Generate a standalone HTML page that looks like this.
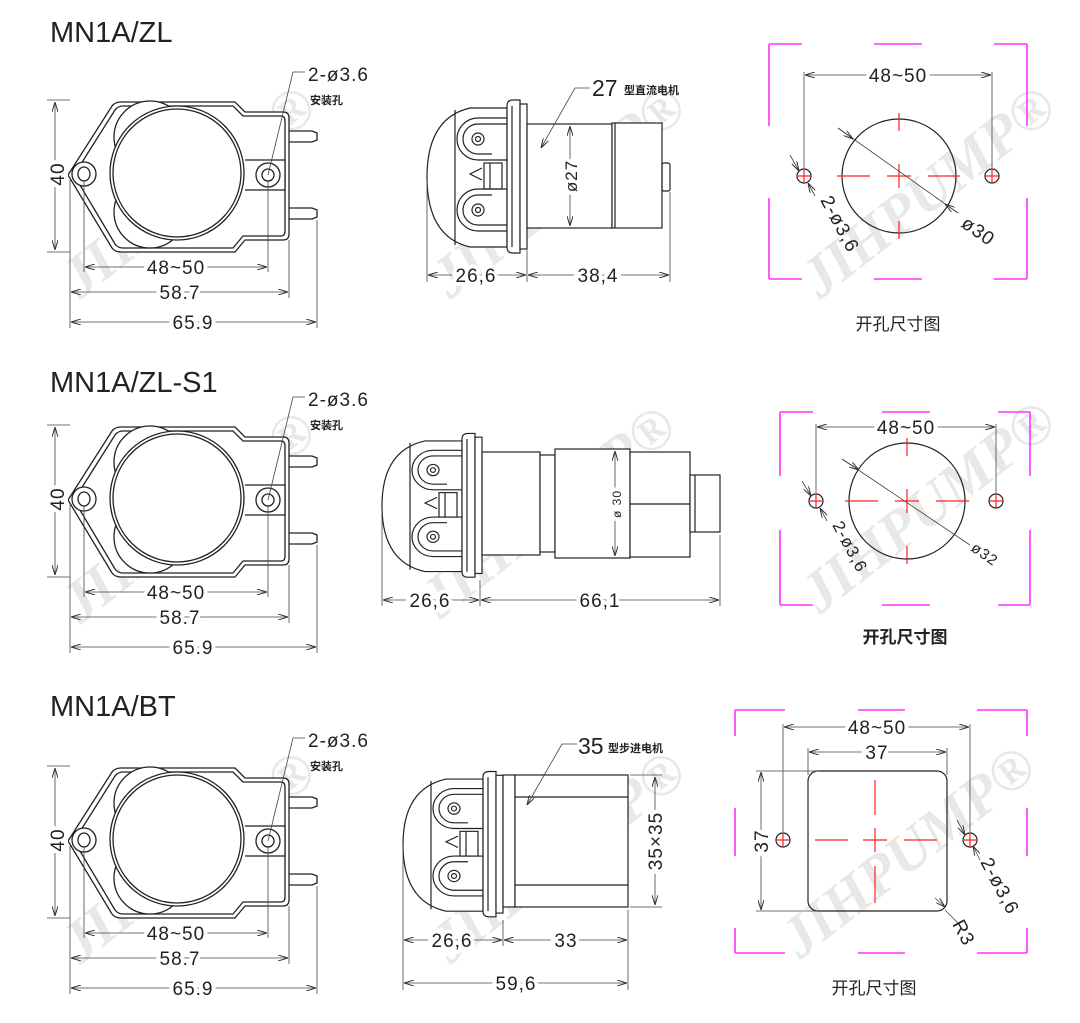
<!DOCTYPE html>
<html><head><meta charset="utf-8"><style>
html,body{margin:0;padding:0;background:#fff;}
svg{display:block;}
.t{font-family:"Liberation Sans","Noto Sans CJK SC",sans-serif;fill:#222;}
.d{font-family:"Liberation Sans",sans-serif;font-size:19px;fill:#222;letter-spacing:1px;stroke:#fff;stroke-width:8px;paint-order:stroke;}
.cn{font-family:"Noto Sans CJK SC",sans-serif;font-size:11px;font-weight:bold;fill:#222;}
.wm{font-family:"Liberation Serif",serif;font-style:italic;font-weight:bold;font-size:58px;fill:#e8e8e8;}
</style></head><body>
<svg width="1080" height="1023" viewBox="0 0 1080 1023" xmlns="http://www.w3.org/2000/svg">
<defs>
<marker id="a" viewBox="0 0 10 6" refX="10" refY="3" markerWidth="10" markerHeight="6" orient="auto-start-reverse" markerUnits="userSpaceOnUse"><path d="M0,0 L10,3 L0,6" fill="none" stroke="#333" stroke-width="1"/></marker>
<g id="fv" fill="none" stroke="#222" stroke-width="1.3">
 <path d="M68,175 L112,106 Q115,102 121,102 L235,102 L245,112 L283,112 Q289,112 289,118 L289,234 Q289,240 283,240 L245,240 L235,252 L121,252 Q115,252 112,248 Z" fill="#fff"/>
 <path d="M74,175 L115,110 Q118,106 123,106 L233,106 L243,116 L281,116 Q285,116 285,121 L285,231 Q285,236 281,236 L243,236 L233,248 L123,248 Q118,248 115,244 Z"/>
 <circle cx="150" cy="137" r="36" fill="#fff"/>
 <circle cx="150" cy="212" r="36" fill="#fff"/>
 <circle cx="177" cy="173" r="67" fill="#fff"/>
 <circle cx="177" cy="173" r="64"/>
 <path d="M245,160 L285,160 L285,190 L245,190" fill="#fff"/>
 <circle cx="84" cy="174" r="12" fill="#fff"/><ellipse cx="84" cy="174" rx="6" ry="7"/>
 <circle cx="268" cy="175" r="12" fill="#fff"/><circle cx="268" cy="175" r="6"/>
 <path d="M289,131 L312,131 L317,133 L317,140 L312,142 L289,142"/>
 <path d="M289,208 L312,208 L317,210 L317,217 L312,219 L289,219"/>
 <g stroke="#444" stroke-width="0.8">
  <line x1="70" y1="100" x2="47" y2="100"/><line x1="70" y1="252" x2="47" y2="252"/>
  <line x1="55" y1="102" x2="55" y2="250" marker-start="url(#a)" marker-end="url(#a)"/>
  <line x1="84" y1="180" x2="84" y2="272"/><line x1="268" y1="180" x2="268" y2="272"/>
  <line x1="85" y1="267" x2="267" y2="267" marker-start="url(#a)" marker-end="url(#a)"/>
  <line x1="70" y1="180" x2="70" y2="328"/><line x1="289" y1="240" x2="289" y2="298"/><line x1="317" y1="220" x2="317" y2="328"/>
  <line x1="71" y1="292" x2="288" y2="292" marker-start="url(#a)" marker-end="url(#a)"/>
  <line x1="71" y1="322" x2="316" y2="322" marker-start="url(#a)" marker-end="url(#a)"/>
  <polyline points="268,175 293,72 305,72"/>
 </g>
 <g stroke="none">
  <text class="d" x="176" y="274" text-anchor="middle">48~50</text>
  <text class="d" x="180" y="299" text-anchor="middle">58.7</text>
  <text class="d" x="193" y="329" text-anchor="middle">65.9</text>
  <text class="d" transform="translate(64,174) rotate(-90)" text-anchor="middle">40</text>
  <text class="d" x="308" y="81" style="stroke:none">2-ø3.6</text>
  <text class="cn" x="310" y="104">安装孔</text>
 </g>
</g>
<g id="hd" fill="none" stroke="#222" stroke-width="1.2">
 <path d="M470,108 Q427,118 427,177 Q427,237 470,247 L507,247 L507,108 Z" fill="#fff"/>
 <line x1="455" y1="110" x2="455" y2="245"/>
 <path d="M507,118 L478,118 A21,21 0 0 0 478,160 L507,160"/>
 <path d="M507,124 L478,124 A15,15 0 0 0 478,154 L492,154"/>
 <path d="M507,189 L478,189 A21,21 0 0 0 478,231 L507,231"/>
 <path d="M492,195 L478,195 A15,15 0 0 0 478,225 L507,225"/>
 <circle cx="478" cy="139" r="6"/><circle cx="478" cy="139" r="2.5"/>
 <circle cx="478" cy="210" r="6"/><circle cx="478" cy="210" r="2.5"/>
 <path d="M482,168 L470,174 L482,180"/>
 <rect x="484" y="163" width="18" height="26"/>
 <line x1="490" y1="163" x2="490" y2="189"/>
 <path d="M513,100 L520,100 L520,253 L513,253 Q507,253 507,247 L507,106 Q507,100 513,100 Z" fill="#fff"/>
 <rect x="520" y="104" width="7" height="145" fill="#fff"/>
 <line x1="512" y1="106" x2="512" y2="247"/>
</g>
</defs>

<g class="wm">
 <text transform="translate(80,300) rotate(-38)">JIHPUMP®</text>
 <text transform="translate(450,300) rotate(-38)">JIHPUMP®</text>
 <text transform="translate(820,300) rotate(-38)">JIHPUMP®</text>
 <text transform="translate(80,625) rotate(-38)">JIHPUMP®</text>
 <text transform="translate(440,620) rotate(-38)">JIHPUMP®</text>
 <text transform="translate(820,615) rotate(-38)">JIHPUMP®</text>
 <text transform="translate(80,965) rotate(-38)">JIHPUMP®</text>
 <text transform="translate(450,965) rotate(-38)">JIHPUMP®</text>
 <text transform="translate(800,960) rotate(-38)">JIHPUMP®</text>
</g>

<text class="t" x="50" y="42" font-size="29">MN1A/ZL</text>
<text class="t" x="50" y="392" font-size="29">MN1A/ZL-S1</text>
<text class="t" x="50" y="716" font-size="29">MN1A/BT</text>

<use href="#fv"/>
<use href="#fv" transform="translate(0,325)"/>
<use href="#fv" transform="translate(0,666)"/>

<use href="#hd"/>
<g fill="none" stroke="#222" stroke-width="1.2">
 <rect x="527" y="124" width="85" height="104" fill="#fff"/>
 <rect x="612" y="123" width="50" height="105" fill="#fff"/>
 <line x1="615" y1="123" x2="615" y2="228"/>
 <rect x="662" y="163" width="8" height="28" rx="2"/>
</g>
<g stroke="#444" stroke-width="0.8" fill="none">
 <line x1="427" y1="180" x2="427" y2="282"/><line x1="527" y1="250" x2="527" y2="282"/><line x1="670" y1="192" x2="670" y2="282"/>
 <line x1="428" y1="275" x2="526" y2="275" marker-start="url(#a)" marker-end="url(#a)"/>
 <line x1="528" y1="275" x2="669" y2="275" marker-start="url(#a)" marker-end="url(#a)"/>
 <line x1="570" y1="126" x2="570" y2="226" marker-start="url(#a)" marker-end="url(#a)"/>
 <polyline points="590,88 575,88 541,148" marker-end="url(#a)"/>
</g>
<text class="d" x="476" y="282" text-anchor="middle">26,6</text>
<text class="d" x="598" y="282" text-anchor="middle">38,4</text>
<text class="d" transform="translate(577,176) rotate(-90)" text-anchor="middle" style="font-size:17px">ø27</text>
<text class="t" x="592" y="96" font-size="23">27</text>
<text class="cn" x="624" y="94">型直流电机</text>

<use href="#hd" transform="translate(-45,330) scale(1,0.94) translate(0,10)"/>
<g fill="none" stroke="#222" stroke-width="1.2">
 <rect x="482" y="452" width="58" height="103" fill="#fff"/>
 <rect x="540" y="455" width="15" height="97" fill="#fff"/>
 <rect x="555" y="449" width="75" height="109" fill="#fff"/>
 <rect x="630" y="452" width="60" height="105" fill="#fff"/>
 <line x1="630" y1="504" x2="690" y2="504"/>
 <rect x="690" y="475" width="30" height="57" fill="#fff"/>
 <line x1="695" y1="475" x2="695" y2="532"/>
</g>
<g stroke="#444" stroke-width="0.8" fill="none">
 <line x1="382" y1="510" x2="382" y2="606"/><line x1="480" y1="580" x2="480" y2="606"/><line x1="720" y1="535" x2="720" y2="606"/>
 <line x1="383" y1="600" x2="479" y2="600" marker-start="url(#a)" marker-end="url(#a)"/>
 <line x1="481" y1="600" x2="719" y2="600" marker-start="url(#a)" marker-end="url(#a)"/>
 <line x1="615" y1="451" x2="615" y2="556" marker-start="url(#a)" marker-end="url(#a)"/>
</g>
<text class="d" x="430" y="607" text-anchor="middle">26,6</text>
<text class="d" x="600" y="607" text-anchor="middle">66,1</text>
<text class="d" transform="translate(621,504) rotate(-90)" text-anchor="middle" style="font-size:12px">ø 30</text>

<use href="#hd" transform="translate(-24,667) scale(1,0.95) translate(0,10)"/>
<g fill="none" stroke="#222" stroke-width="1.2">
 <rect x="503" y="775" width="12" height="132" fill="#fff"/>
 <rect x="515" y="775" width="113" height="132" fill="#fff"/>
 <line x1="515" y1="797" x2="628" y2="797"/><line x1="515" y1="885" x2="628" y2="885"/>
</g>
<g stroke="#444" stroke-width="0.8" fill="none">
 <line x1="403" y1="845" x2="403" y2="990"/><line x1="503" y1="920" x2="503" y2="946"/><line x1="628" y1="910" x2="628" y2="990"/>
 <line x1="630" y1="775" x2="662" y2="775"/><line x1="630" y1="907" x2="662" y2="907"/>
 <line x1="655" y1="777" x2="655" y2="905" marker-start="url(#a)" marker-end="url(#a)"/>
 <line x1="404" y1="940" x2="502" y2="940" marker-start="url(#a)" marker-end="url(#a)"/>
 <line x1="504" y1="940" x2="627" y2="940" marker-start="url(#a)" marker-end="url(#a)"/>
 <line x1="404" y1="983" x2="627" y2="983" marker-start="url(#a)" marker-end="url(#a)"/>
 <polyline points="577,744 562,744 527,805" marker-end="url(#a)"/>
</g>
<text class="d" x="452" y="947" text-anchor="middle">26,6</text>
<text class="d" x="566" y="947" text-anchor="middle">33</text>
<text class="d" x="516" y="990" text-anchor="middle">59,6</text>
<text class="d" transform="translate(662,841) rotate(-90)" text-anchor="middle">35×35</text>
<text class="t" x="578" y="754" font-size="23">35</text>
<text class="cn" x="608" y="752">型步进电机</text>

<g stroke="#ff33ff" stroke-width="1.6" fill="none">
 <path d="M769,44 H802 M874,44 H922 M994,44 H1027 M769,279 H802 M874,279 H922 M994,279 H1027 M769,44 V126 M769,198 V279 M1027,44 V126 M1027,198 V279"/>
 <path d="M780,412 H813 M882,412 H930 M998,412 H1030 M780,605 H813 M882,605 H930 M998,605 H1030 M780,412 V476 M780,530 V605 M1030,412 V476 M1030,530 V605"/>
 <path d="M735,710 H785 M858,710 H905 M977,710 H1027 M735,953 H785 M858,953 H905 M977,953 H1027 M735,710 V736 M735,808 V856 M735,928 V953 M1027,710 V736 M1027,808 V856 M1027,928 V953"/>
</g>
<g fill="none" stroke="#222" stroke-width="1.2">
 <circle cx="899" cy="176" r="57"/><circle cx="804" cy="176" r="7"/><circle cx="992" cy="176" r="7"/>
 <circle cx="907" cy="501" r="58"/><circle cx="816" cy="501" r="7"/><circle cx="996" cy="501" r="7"/>
 <rect x="808" y="771" width="139" height="140" rx="10"/><circle cx="783" cy="840" r="7"/><circle cx="970" cy="840" r="7"/>
</g>
<g stroke="#ff2020" stroke-width="1.2" fill="none">
 <path d="M899,113 V131 M899,164 V188 M899,221 V239 M837,176 H870 M887,176 H911 M928,176 H960 M797,176 H811 M804,169 V183 M985,176 H999 M992,169 V183"/>
 <path d="M907,438 V456 M907,489 V513 M907,546 V564 M845,501 H878 M895,501 H919 M936,501 H969 M809,501 H823 M816,494 V508 M989,501 H1003 M996,494 V508"/>
 <path d="M875,780 V815 M875,828 V852 M875,866 V903 M815,840 H848 M863,840 H887 M904,840 H937 M776,840 H790 M783,833 V847 M963,840 H977 M970,833 V847"/>
</g>
<g stroke="#444" stroke-width="0.8" fill="none">
 <line x1="804" y1="168" x2="804" y2="72"/><line x1="992" y1="168" x2="992" y2="72"/>
 <line x1="805" y1="75" x2="991" y2="75" marker-start="url(#a)" marker-end="url(#a)"/>
 <line x1="838" y1="128" x2="958" y2="213"/><line x1="838" y1="128" x2="853" y2="139" marker-end="url(#a)"/>
 <line x1="958" y1="213" x2="945" y2="204" marker-end="url(#a)"/>
 <line x1="790" y1="155" x2="799" y2="171" marker-end="url(#a)"/><line x1="815" y1="196" x2="808" y2="183" marker-end="url(#a)"/>
 <line x1="816" y1="493" x2="816" y2="424"/><line x1="996" y1="493" x2="996" y2="424"/>
 <line x1="817" y1="427" x2="995" y2="427" marker-start="url(#a)" marker-end="url(#a)"/>
 <line x1="842" y1="459" x2="970" y2="545"/><line x1="842" y1="459" x2="859" y2="470" marker-end="url(#a)"/>
 <line x1="802" y1="481" x2="811" y2="496" marker-end="url(#a)"/><line x1="827" y1="521" x2="820" y2="508" marker-end="url(#a)"/>
 <line x1="783" y1="832" x2="783" y2="724"/><line x1="970" y1="832" x2="970" y2="724"/>
 <line x1="784" y1="727" x2="969" y2="727" marker-start="url(#a)" marker-end="url(#a)"/>
 <line x1="808" y1="775" x2="808" y2="748"/><line x1="947" y1="775" x2="947" y2="748"/>
 <line x1="809" y1="752" x2="946" y2="752" marker-start="url(#a)" marker-end="url(#a)"/>
 <line x1="756" y1="771" x2="820" y2="771"/><line x1="756" y1="911" x2="820" y2="911"/>
 <line x1="761" y1="772" x2="761" y2="910" marker-start="url(#a)" marker-end="url(#a)"/>
 <line x1="935" y1="898" x2="945" y2="907" marker-end="url(#a)"/><line x1="958" y1="923" x2="945" y2="910"/>
 <line x1="957" y1="820" x2="965" y2="835" marker-end="url(#a)"/><line x1="980" y1="860" x2="973" y2="846" marker-end="url(#a)"/>
</g>
<text class="d" x="898" y="82" text-anchor="middle">48~50</text>
<text class="d" x="906" y="434" text-anchor="middle">48~50</text>
<text class="d" x="877" y="734" text-anchor="middle">48~50</text>
<text class="d" x="877" y="759" text-anchor="middle">37</text>
<text class="d" transform="translate(768,841) rotate(-90)" text-anchor="middle">37</text>
<text class="d" transform="translate(820,200) rotate(62)" style="stroke:none">2-ø3,6</text>
<text class="d" transform="translate(960,226) rotate(35)" style="stroke:none">ø30</text>
<text class="d" transform="translate(832,525) rotate(62)" style="stroke:none;font-size:17px">2-ø3,6</text>
<text class="d" transform="translate(970,550) rotate(35)" style="stroke:none;font-size:15px">ø32</text>
<text class="d" transform="translate(980,862) rotate(62)" style="stroke:none">2-ø3,6</text>
<text class="d" transform="translate(952,924) rotate(62)" style="stroke:none">R3</text>
<text class="t" x="898" y="330" font-size="17" text-anchor="middle" font-family="'Noto Sans CJK SC',sans-serif">开孔尺寸图</text>
<text class="t" x="905" y="643" font-size="17" font-weight="bold" text-anchor="middle" font-family="'Noto Sans CJK SC',sans-serif">开孔尺寸图</text>
<text class="t" x="874" y="994" font-size="17" text-anchor="middle" font-family="'Noto Serif CJK SC',serif">开孔尺寸图</text>
</svg>
</body></html>
